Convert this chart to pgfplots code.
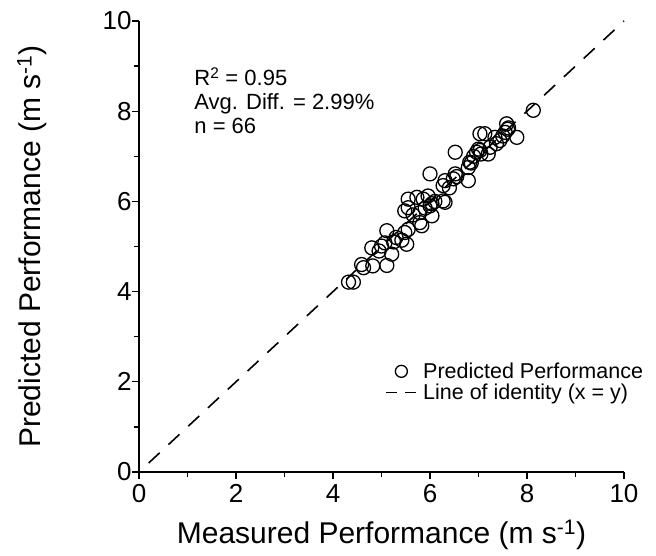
\documentclass[border=0pt]{standalone}
\usepackage{fontspec}
\setmainfont{Liberation Sans}
\usepackage{pgfplots}
\pgfplotsset{compat=1.18}
\begin{document}
\begin{tikzpicture}
\begin{axis}[
  scale only axis, width=485pt, height=451pt,
  xmin=0, xmax=10, ymin=0, ymax=10,
  axis x line*=bottom, axis y line*=left,
  x axis line style={-}, y axis line style={-},
  axis line style={line width=1.5pt},
  xtick={0,2,...,10}, ytick={0,2,...,10},
  minor x tick num=1, minor y tick num=1,
  tick align=outside, major tick length=7pt, minor tick length=5pt,
  every tick/.style={line width=1.3pt, black},
  /pgf/number format/assume math mode=true,
  ticklabel style={font=\fontsize{26}{28}\selectfont},
  xticklabel style={yshift=-2pt},
  yticklabel style={xshift=3pt},
  xlabel={Measured Performance (m s\textsuperscript{-1})},
  ylabel={Predicted Performance (m s\textsuperscript{-1})},
  label style={font=\fontsize{30}{33}\selectfont},
  xlabel style={at={(axis description cs:0.5,-0.14)}, anchor=center},
  ylabel style={at={(axis description cs:-0.2206,0.5)}, anchor=center},
  clip=false,
  legend style={at={(axis cs:5.08,2.47)}, anchor=north west, draw=none, fill=none,
    font=\fontsize{21.5}{24}\selectfont, row sep=0pt, inner sep=0pt,
    /tikz/every odd column/.append style={column sep=4pt}},
  legend cell align=left,
  legend image code/.code={\draw[mark repeat=2,mark phase=2,#1] plot coordinates {(0pt,0pt) (15pt,0pt) (30pt,0pt)};},
]
\addplot[only marks, mark=o, mark size=7pt, mark options={line width=1.3pt, black},
  legend image post style={mark size=6pt}] coordinates {
(4.32,4.21) (4.42,4.21) (4.59,4.60) (4.63,4.53) (4.82,4.57) (5.11,4.58)
(4.80,4.97) (5.00,5.01) (5.07,5.08) (5.21,4.83) (5.11,5.35) (5.42,5.14)
(5.52,5.05) (5.48,5.31) (5.55,5.38) (5.79,5.53) (5.83,5.46) (6.04,5.68)
(5.48,5.79) (5.55,5.86) (5.79,5.75) (6.00,5.90) (6.31,5.98) (5.55,6.05)
(5.73,6.09) (5.86,6.05) (5.96,6.12) (6.27,6.01) (6.04,5.95) (6.00,6.61)
(6.27,6.35) (6.31,6.46) (6.48,6.50) (6.52,6.61) (6.79,6.46) (6.79,6.75)
(6.82,6.87) (6.52,7.09) (6.96,7.09) (7.00,7.16) (7.03,7.13) (7.20,7.05)
(7.24,7.20) (7.37,7.28) (7.44,7.35) (7.34,7.42) (7.03,7.50) (7.13,7.50)
(7.55,7.53) (7.79,7.42) (7.58,7.72) (7.62,7.63) (8.13,8.02) (5.30,5.20)
(5.65,5.70) (5.90,5.85) (6.10,6.00) (6.40,6.30) (6.55,6.55) (6.90,7.00)
(7.05,7.05) (7.50,7.45) (7.60,7.60) (5.25,5.10) (4.95,4.90) (6.85,6.85)
};
\addlegendentry{Predicted Performance}
\addplot[black, line width=1.6pt, dash pattern=on 15pt off 12pt,
  legend image post style={dash pattern=on 11pt off 8pt}] coordinates {(0.2,0.2) (10,10)};
\addlegendentry{Line of identity (x = y)}
\node[anchor=base west, font=\fontsize{22}{24}\selectfont] at (axis cs:1.07,8.56) {R\textsuperscript{2} = 0.95};
\node[anchor=base west, font=\fontsize{22}{24}\selectfont] at (axis cs:1.07,8.04) {Avg. Diff. = 2.99\%};
\node[anchor=base west, font=\fontsize{22}{24}\selectfont] at (axis cs:1.07,7.51) {n = 66};
\end{axis}
\pgfresetboundingbox
\path[use as bounding box] (-139pt,-84pt) rectangle (517pt,472pt);
\end{tikzpicture}
\end{document}
